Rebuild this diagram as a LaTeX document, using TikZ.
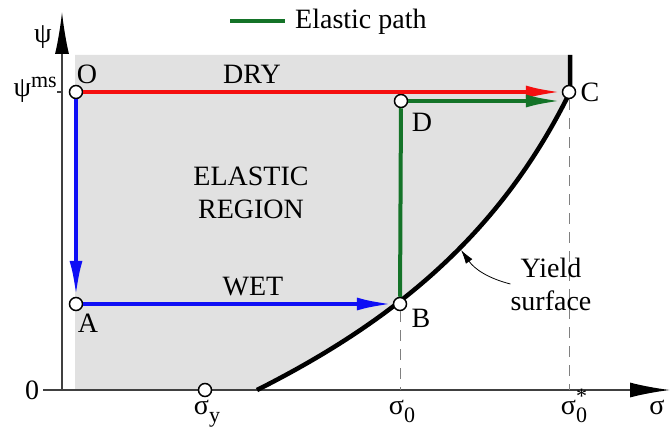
\documentclass[tikz,border=0pt]{standalone}
\usepackage{fontspec}
\setmainfont{Liberation Serif}
\usetikzlibrary{arrows.meta}

\definecolor{regiongray}{RGB}{225,225,225}
\definecolor{drypath}{RGB}{245,15,15}
\definecolor{wetpath}{RGB}{15,15,245}
\definecolor{elasticpath}{RGB}{20,115,40}

\newcommand{\subtxt}[1]{\raisebox{-8pt}{\fontsize{22}{22}\selectfont #1}}
\newcommand{\suptxt}[1]{\raisebox{9pt}{\fontsize{22}{22}\selectfont #1}}

\tikzset{
    pt/.style={circle, draw, fill=white, line width=1.5pt, inner sep=0pt, minimum size=13pt},
    lbl/.style={font=\fontsize{28}{33}\selectfont, inner sep=0pt},
    axis/.style={line width=1.5pt, draw=black!75},
    guide/.style={line width=1pt, draw=black!50, dash pattern=on 11pt off 8pt},
    loadpath/.style={line width=4pt, -{Latex[length=36pt,width=13pt]}},
}

\begin{document}
\begin{tikzpicture}[x=1pt, y=-1pt]
    \useasboundingbox (0,0) rectangle (671,428);

    %elastic region
        \fill[regiongray] (75,55) -- (570,55) -- (570,92) .. controls (502,230) and (400,318) .. (257,390) -- (75,390) -- cycle;

    %axes
        \coordinate (orig) at (62,390);
        \draw[axis, -{Latex[length=42pt,width=14pt,black]}] (orig) -- (62,12);
        \draw[axis, -{Latex[length=40pt,width=15pt,black]}] (43,390) -- (670,390);
        \draw[axis] (57,92) -- (62,92);

    %yield surface
        \draw[line width=4.5pt, line join=round] (570,55) -- (570,92) .. controls (502,230) and (400,318) .. (257,390);

    %mark points
        \node[pt] (O) at (76,92) {};
        \node[pt] (A) at (76,304) {};
        \node[pt] (B) at (400,304) {};
        \node[pt] (C) at (569,92) {};
        \node[pt] (D) at (401,101) {};
        \node[pt] (Sy) at (205,390) {};

    %guide lines
        \draw[guide] (B.south) -- (B.south |- orig);
        \draw[guide] (C.south) -- (C.south |- orig);

    %stress paths
        \draw[loadpath, drypath] (O) -- (C);
        \draw[loadpath, wetpath] (O) -- (A);
        \draw[loadpath, wetpath] (A) -- (B);
        \draw[line width=4pt, elasticpath] (B) -- (D);
        \draw[loadpath, elasticpath] (D) -- (D -| C.west);

    %legend
        \coordinate (leg1) at (230,21);
        \coordinate (leg2) at (285,21);
        \draw[line width=4pt, elasticpath] (leg1) -- (leg2);
        \node[lbl, anchor=west] (legtext) at (295,22) {Elastic path};

    %labels
        \node[lbl] (labO) at (87,74) {O};
        \node[lbl] (labA) at (88,323) {A};
        \node[lbl] (labB) at (421,318) {B};
        \node[lbl] (labC) at (590,92) {C};
        \node[lbl] (labD) at (422,122) {D};
        \node[lbl] (dry) at (252,74) {DRY};
        \node[lbl] (wet) at (253,287) {WET};
        \node[lbl, align=center] (region) at (251,193) {ELASTIC\\REGION};

    %axis labels
        \node[lbl] (psi) at (43,37) {ψ};
        \node[lbl, anchor=east] (psims) at (57,90) {ψ\suptxt{ms}};
        \node[lbl] (zero) at (32,390) {0};
        \node[lbl, anchor=base] (sigy) at (207,414) {σ\subtxt{y}};
        \node[lbl, anchor=base] (sig0) at (402,414) {σ\subtxt{0}};
        \node[lbl, anchor=base] (sig0s) at (574,414) {σ\subtxt{0}\llap{\raisebox{11pt}{\fontsize{22}{22}\selectfont *}}};
        \node[lbl, anchor=base] (sig) at (657,414) {σ};

    %yield surface label
        \coordinate (ytip) at (461,250);
        \node[lbl, align=center] (ylab) at (551,284) {Yield\\surface};
        \draw[line width=0.8pt, -{Latex[length=14pt,width=8pt]}] (ylab.west) to[bend left=20] (ytip);

\end{tikzpicture}
\end{document}
